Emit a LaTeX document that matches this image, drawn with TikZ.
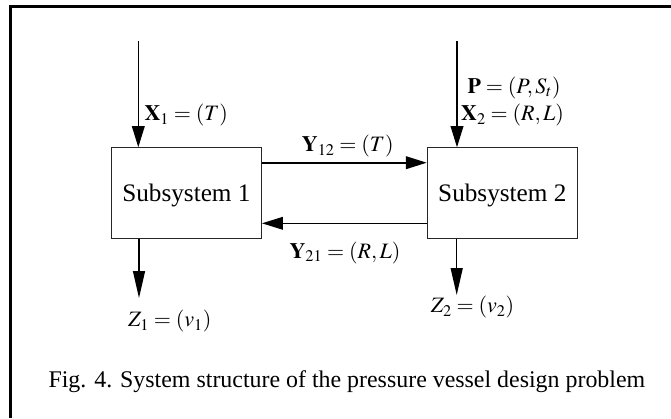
\documentclass[tikz,border=0pt]{standalone}
\usepackage{mathptmx}
\usepackage{fontspec}
\setmainfont{Liberation Serif}
\usetikzlibrary{arrows.meta}
\begin{document}
\begin{tikzpicture}[x=1pt,y=-1pt,
  box/.style={draw=black!85,line width=1pt,minimum width=150.1pt,minimum height=90.6pt,inner sep=0pt},
  boxtext/.style={anchor=base,inner sep=0pt,font=\fontsize{25.2}{30}\selectfont},
  lbl/.style={anchor=base west,inner sep=0pt,font=\fontsize{22}{26}\selectfont},
  arr/.style={line width=1.3pt,-{Triangle[length=21pt,width=12.7pt]}},
  arrout/.style={line width=1.3pt,-{Triangle[length=27pt,width=12pt]}},
  frame/.style={line width=2.5pt}]
\useasboundingbox (0,0) rectangle (671,418);
\draw[frame] (10.6,418) -- (10.6,6.5) -- (671,6.5);
\node[box] (s1) at (186.4,193) {};
\node[box] (s2) at (502.3,193) {};
\node[boxtext] (t1) at ([yshift=-8.7pt]s1.center) {Subsystem 1};
\node[boxtext] (t2) at ([yshift=-8.7pt]s2.center) {Subsystem 2};
\coordinate (in1) at (138.3,41);
\coordinate (in2) at (457,41);
\coordinate (out1) at (139,298);
\coordinate (out2) at (456.7,295);
\draw[arr] (in1) -- (in1 |- s1.north);
\draw[arr] (in2) -- (in2 |- s2.north);
\draw[arrout] (out1 |- s1.south) -- (out1);
\draw[arrout] (out2 |- s2.south) -- (out2);
\draw[arr,line width=1.8pt] ([yshift=30.3pt]s1.east) -- ([yshift=30.3pt]s2.west);
\draw[arr] ([yshift=-30.3pt]s2.east -| s2.west) -- ([yshift=-30.3pt]s1.east);
\node[lbl] (x1) at (144.3,120.7) {$\mathbf{X}_1=(T)$};
\node[lbl] (p) at (467.3,93.3) {$\mathbf{P}=(P,S_t)$};
\node[lbl] (x2) at (461,120.7) {$\mathbf{X}_2=(R,L)$};
\node[lbl] (y12) at (301.7,151.7) {$\mathbf{Y}_{12}=(T)$};
\node[lbl] (y21) at (289.3,258.3) {$\mathbf{Y}_{21}=(R,L)$};
\node[lbl] (z1) at (128,326.7) {$Z_1=(v_1)$};
\node[lbl] (z2) at (430.7,312.7) {$Z_2=(v_2)$};
\node[anchor=base west,inner sep=0pt,font=\fontsize{23.9}{28}\selectfont] (cap) at (48.3,387.7) {Fig. 4. System structure of the pressure vessel design problem};
\end{tikzpicture}
\end{document}
